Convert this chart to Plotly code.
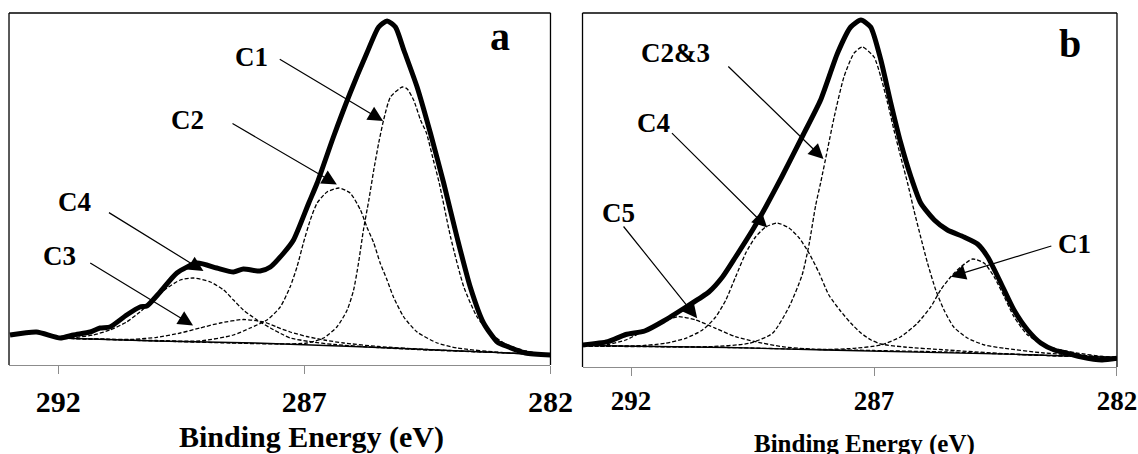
import plotly.graph_objects as go

# ---------------- Panel a data (binding energy eV, intensity a.u.) ----------------
a_env_x = [292.98, 292.44, 291.96, 291.69, 291.35, 291.15, 290.95, 290.61, 290.34, 290.20,
           289.93, 289.59, 289.18, 288.78, 288.44, 288.24, 287.90, 287.69, 287.42, 287.22,
           286.91, 286.74, 286.41, 286.07, 285.73, 285.49, 285.32, 285.15, 284.98, 284.71,
           284.44, 284.17, 283.90, 283.63, 283.36, 283.08, 282.85, 282.51, 282.00]
a_env_y = [30, 33, 27, 30, 33, 37, 38, 50, 58, 59,
           73, 92, 102, 97, 93, 96, 94, 98, 112, 125,
           162, 182, 228, 272, 312, 338, 344, 338, 315, 278,
           232, 182, 128, 78, 42, 23, 18, 12, 10]

a_base_x = [292, 290, 288, 287, 286, 285, 284, 283, 282]
a_base_y = [27, 24, 22, 20.5, 18.5, 16.5, 14.5, 12.3, 10]

a_c1_x = [292, 290, 288.5, 287.5, 286.95, 286.61, 286.34, 286.13, 286.0, 285.90, 285.80,
          285.69, 285.59, 285.49, 285.39, 285.25, 285.01, 284.91, 284.78, 284.64, 284.52,
          284.38, 284.26, 284.03, 283.76, 283.49, 283.22, 282.95, 282.81, 282.5, 282]
a_c1_y = [27, 24, 22, 21, 22, 27, 38, 55, 75, 102, 135,
          165, 195, 222, 245, 268, 278, 276, 265, 245, 232,
          205, 182, 128, 78, 48, 32, 22, 19, 14, 10]

a_c2_x = [292, 290, 289.12, 288.44, 288.10, 287.76, 287.49, 287.29, 287.15, 287.02, 286.88,
          286.74, 286.54, 286.30, 286.07, 285.86, 285.73, 285.59, 285.46, 285.32, 285.19,
          284.98, 284.71, 284.30, 283.90, 283, 282]
a_c2_y = [27, 24.5, 24, 30, 37, 45, 58, 78, 98, 122, 145,
          162, 173, 177, 172, 155, 138, 122, 102, 85, 68,
          48, 33, 22, 17, 12.5, 10]

a_c3_x = [292, 291.15, 290.47, 290.0, 289.52, 289.12, 288.71, 288.24, 287.83, 287.56,
          287.29, 286.95, 286.6, 286.2, 285.5, 284.5, 283, 282]
a_c3_y = [27, 25.8, 25.7, 27.7, 32, 37, 42, 45.5, 43, 38,
          33, 28.5, 25, 22, 18.5, 15.5, 12.3, 10]

a_c4_x = [292, 291.62, 291.29, 290.95, 290.61, 290.34, 290.07, 289.79, 289.52, 289.25,
          288.91, 288.64, 288.44, 288.24, 287.96, 287.69, 287.42, 287.29, 286.9, 286.4,
          285.5, 284.5, 283, 282]
a_c4_y = [27, 27.7, 30, 35, 43, 53, 65, 77, 85, 87,
          83, 75, 65, 55, 45, 37, 30, 27, 23.5, 20.5,
          17.5, 15, 12.3, 10]

# ---------------- Panel b data ----------------
b_env_x = [292.99, 292.48, 292.11, 291.72, 291.33, 290.87, 290.40, 290.12, 289.85, 289.50,
           289.23, 288.90, 288.45, 288.10, 287.75, 287.48, 287.27, 287.07, 286.86, 286.66,
           286.45, 286.24, 286.04, 285.76, 285.49, 285.15, 284.87, 284.66, 284.39, 284.12,
           283.84, 283.57, 283.29, 283.02, 282.75, 282.31, 282.00]
b_env_y = [22, 25.3, 32.5, 36, 46, 60, 75, 90, 110, 137,
           160, 190, 233, 267, 314, 340, 347, 340, 307, 265,
           224, 190, 164, 147, 137, 130, 123, 110, 84, 57,
           37, 24, 17, 13.7, 10.3, 7, 8.7]

b_base_x = [293, 292, 290, 288, 286, 284, 282.3, 282]
b_base_y = [21.5, 20.8, 19.5, 17, 15, 12.5, 10, 9.5]

b_c23_x = [293, 292.73, 291.43, 290.40, 289.57, 289.09, 288.75, 288.48, 288.34, 288.20,
           288.10, 287.96, 287.82, 287.62, 287.41, 287.24, 287.0, 286.86, 286.72, 286.59,
           286.45, 286.31, 286.18, 286.04, 285.90, 285.73, 285.56, 285.36, 285.08, 284.73,
           284.32, 283.5, 282.5, 282]
b_c23_y = [21.3, 20.8, 20.3, 20.3, 23.7, 33.7, 60, 92, 122, 162,
           184, 217, 250, 290, 314, 320, 310, 290, 264, 237,
           210, 184, 157, 130, 104, 77, 57, 40, 29, 22,
           18.7, 14, 11, 9.5]

b_c4_x = [293, 292.73, 291.91, 291.29, 290.88, 290.53, 290.26, 290.05, 289.85, 289.64,
          289.44, 289.23, 288.99, 288.75, 288.54, 288.34, 288.13, 287.93, 287.69, 287.48,
          287.27, 287.06, 286.86, 286.38, 285.5, 284, 282.5, 282]
b_c4_y = [21.3, 20.8, 21, 23.7, 28.7, 37, 50, 67, 90, 114,
          130, 140, 144, 139, 129, 114, 94, 72, 56, 44,
          34, 27, 23, 20, 17, 12.5, 10, 9.5]

b_c5_x = [293, 292.87, 292.46, 292.11, 291.77, 291.36, 291.02, 290.67, 290.26, 289.85,
          289.44, 288.89, 288.20, 287, 285.5, 284, 282.5, 282]
b_c5_y = [21.3, 21, 22.7, 27, 35.3, 45.3, 50.3, 47, 38.7, 30.3,
          25.3, 20.3, 17.7, 16.5, 15, 12.5, 10, 9.5]

b_c1_x = [293, 290, 288, 287.41, 286.86, 286.45, 286.11, 285.83, 285.63, 285.42, 285.21,
          284.97, 284.73, 284.53, 284.32, 284.12, 283.84, 283.50, 283.16, 282.78, 282.3, 282]
b_c1_y = [21.5, 19.5, 17.5, 18.7, 22, 30.3, 43.7, 60.3, 77, 90.3, 100.3,
          108, 103.7, 90.3, 70.3, 50.3, 32, 22, 17, 13.7, 10.5, 9.5]

tick_vals = [292, 287, 282]
tick_text = ["292", "287", "282"]
x_title = "Binding Energy (eV)"

FONT = "Liberation Serif, Times New Roman, serif"
W, H = 1138, 454          # reference picture size (for layout fractions)
FIG_W = 1162              # page width that maps onto the 1138-px picture

fig = go.Figure()


def add_curves(xs, ys, xa, ya, kind):
    if kind == "env":
        line = dict(color="black", width=5, shape="spline", smoothing=0.6)
    elif kind == "base":
        line = dict(color="black", width=1.3)
    else:
        line = dict(color="black", width=1.3, dash="4px,2px", shape="spline", smoothing=0.6)
    fig.add_trace(go.Scatter(x=xs, y=ys, mode="lines", line=line, xaxis=xa, yaxis=ya,
                             hoverinfo="skip", showlegend=False))


for xs, ys, k in [(a_base_x, a_base_y, "base"), (a_c1_x, a_c1_y, "c"), (a_c2_x, a_c2_y, "c"),
                  (a_c3_x, a_c3_y, "c"), (a_c4_x, a_c4_y, "c"), (a_env_x, a_env_y, "env")]:
    add_curves(xs, ys, "x", "y", k)
for xs, ys, k in [(b_base_x, b_base_y, "base"), (b_c1_x, b_c1_y, "c"), (b_c23_x, b_c23_y, "c"),
                  (b_c4_x, b_c4_y, "c"), (b_c5_x, b_c5_y, "c"), (b_env_x, b_env_y, "env")]:
    add_curves(xs, ys, "x2", "y2", k)


def xaxis(dom, size, anchor, standoff):
    return dict(domain=dom, range=[293, 282], tickvals=tick_vals, ticktext=tick_text,
                ticks="outside", ticklen=8, tickwidth=1.3, tickcolor="#8c8c8c",
                showline=True, linecolor="#8c8c8c", linewidth=1.3, showgrid=False,
                zeroline=False, anchor=anchor, ticklabelstandoff=standoff,
                tickfont=dict(family=FONT, size=size, color="black", weight="bold"))


def yaxis(dom, rng, anchor):
    return dict(domain=dom, range=rng, showticklabels=False, showgrid=False,
                zeroline=False, showline=False, ticks="", anchor=anchor)


shapes = []
for xr, yr in [("x domain", "y domain"), ("x2 domain", "y2 domain")]:
    for (x0, y0, x1, y1) in [(0, 0, 0, 1), (0, 1, 1, 1), (1, 0, 1, 1)]:
        shapes.append(dict(type="line", xref=xr, yref=yr, x0=x0, y0=y0, x1=x1, y1=y1,
                           line=dict(color="black", width=1.3)))

ann = []


def label(text, x, y, xr, yr, size=27):
    ann.append(dict(text=text, x=x, y=y, xref=xr, yref=yr, showarrow=False,
                    xanchor="center", yanchor="middle",
                    font=dict(family=FONT, size=size, color="black", weight="bold")))


def arrow(hx, hy, tx, ty, xr, yr):
    ann.append(dict(text="", x=hx, y=hy, ax=tx, ay=ty, xref=xr, yref=yr, axref=xr, ayref=yr,
                    showarrow=True, arrowhead=2, arrowsize=2.5, arrowwidth=1.2,
                    arrowcolor="black", standoff=0, startstandoff=0))


label("C1", 288.08, 308.3, "x", "y")
arrow(285.40, 244, 287.53, 306.7, "x", "y")
label("C2", 289.37, 245, "x", "y")
arrow(286.34, 180.5, 288.49, 242.3, "x", "y")
label("C4", 291.67, 163.3, "x", "y")
arrow(289.05, 94, 291.0, 153.3, "x", "y")
label("C3", 291.98, 109, "x", "y")
arrow(289.26, 39.5, 291.38, 103, "x", "y")
label("a", 283.02, 328.3, "x", "y", size=40)

label("C2&amp;3", 291.09, 314.5, "x2", "y2")
arrow(288.04, 208, 290.03, 302, "x2", "y2")
label("C4", 291.53, 243.7, "x2", "y2")
arrow(289.20, 139.5, 291.19, 235.3, "x2", "y2")
label("C5", 292.25, 154.5, "x2", "y2")
arrow(290.64, 48.7, 292.18, 142, "x2", "y2")
label("C1", 282.88, 123, "x2", "y2")
arrow(285.42, 90.3, 283.32, 121.5, "x2", "y2")
label("b", 282.97, 324, "x2", "y2", size=40)

label(x_title, 311 / W, 1 - 437 / H, "paper", "paper", size=30)
label(x_title, 863.5 / W, 1 - 444 / H, "paper", "paper", size=25)

fig.update_layout(
    width=FIG_W, height=H, autosize=False, margin=dict(l=0, r=0, t=0, b=0, pad=0),
    paper_bgcolor="white", plot_bgcolor="white", showlegend=False,
    xaxis=xaxis([9 / W, 550 / W], 30, "y", 2),
    yaxis=yaxis([1 - 365 / H, 1 - 13 / H], [0, 352], "x"),
    xaxis2=xaxis([582 / W, 1116 / W], 27, "y2", 1),
    yaxis2=yaxis([1 - 367 / H, 1 - 13 / H], [0, 354], "x2"),
    shapes=shapes, annotations=ann,
)

fig.write_html("out.html", config={"displayModeBar": False})
